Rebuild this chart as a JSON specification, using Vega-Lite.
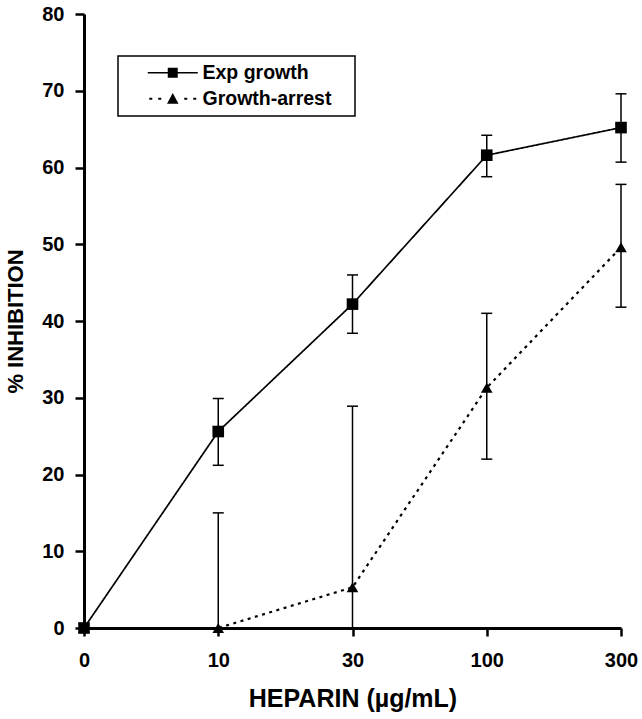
{
  "$schema": "https://vega.github.io/schema/vega-lite/v6.json",
  "width": 537,
  "height": 614,
  "autosize": {"type": "none"},
  "padding": {"left": 84, "top": 14, "right": 21, "bottom": 91},
  "background": "white",
  "config": {
    "view": {"stroke": null},
    "font": "Liberation Sans",
    "axis": {
      "grid": false,
      "domainColor": "black",
      "domainWidth": 3,
      "tickColor": "black",
      "tickWidth": 2.5,
      "tickSize": 9,
      "labelColor": "black",
      "labelFont": "Liberation Sans",
      "labelFontSize": 20,
      "labelFontWeight": "bold",
      "titleColor": "black",
      "titleFont": "Liberation Sans",
      "titleFontSize": 22,
      "titleFontWeight": "bold"
    },
    "legend": {
      "strokeColor": "black",
      "strokeWidth": 1.5,
      "padding": 7,
      "rowPadding": 5,
      "labelFont": "Liberation Sans",
      "labelFontSize": 19.5,
      "labelFontWeight": "bold",
      "labelColor": "black"
    }
  },
  "datasets": {
    "means": [
      {"dose": 0, "series": "Exp growth", "value": 0},
      {"dose": 10, "series": "Exp growth", "value": 25.6},
      {"dose": 30, "series": "Exp growth", "value": 42.2},
      {"dose": 100, "series": "Exp growth", "value": 61.6},
      {"dose": 300, "series": "Exp growth", "value": 65.2},
      {"dose": 0, "series": "Growth-arrest", "value": 0},
      {"dose": 10, "series": "Growth-arrest", "value": 0},
      {"dose": 30, "series": "Growth-arrest", "value": 5.3},
      {"dose": 100, "series": "Growth-arrest", "value": 31.3},
      {"dose": 300, "series": "Growth-arrest", "value": 49.6}
    ],
    "errs": [
      {"dose": 10, "series": "Exp growth", "lo": 21.2, "hi": 29.9},
      {"dose": 30, "series": "Exp growth", "lo": 38.4, "hi": 46.0},
      {"dose": 100, "series": "Exp growth", "lo": 58.8, "hi": 64.2},
      {"dose": 300, "series": "Exp growth", "lo": 60.7, "hi": 69.6},
      {"dose": 10, "series": "Growth-arrest", "lo": 0, "hi": 15.0},
      {"dose": 30, "series": "Growth-arrest", "lo": 0, "hi": 28.9},
      {"dose": 100, "series": "Growth-arrest", "lo": 22.0, "hi": 41.0},
      {"dose": 300, "series": "Growth-arrest", "lo": 41.8, "hi": 57.8}
    ],
    "caps": [
      {"dose": 10, "series": "Exp growth", "v": 21.2},
      {"dose": 10, "series": "Exp growth", "v": 29.9},
      {"dose": 30, "series": "Exp growth", "v": 38.4},
      {"dose": 30, "series": "Exp growth", "v": 46.0},
      {"dose": 100, "series": "Exp growth", "v": 58.8},
      {"dose": 100, "series": "Exp growth", "v": 64.2},
      {"dose": 300, "series": "Exp growth", "v": 60.7},
      {"dose": 300, "series": "Exp growth", "v": 69.6},
      {"dose": 10, "series": "Growth-arrest", "v": 15.0},
      {"dose": 30, "series": "Growth-arrest", "v": 28.9},
      {"dose": 100, "series": "Growth-arrest", "v": 22.0},
      {"dose": 100, "series": "Growth-arrest", "v": 41.0},
      {"dose": 300, "series": "Growth-arrest", "v": 41.8},
      {"dose": 300, "series": "Growth-arrest", "v": 57.8}
    ]
  },
  "encoding": {
    "x": {
      "field": "dose",
      "type": "ordinal",
      "scale": {"type": "point", "domain": [0, 10, 30, 100, 300], "padding": 0},
      "axis": {"title": "HEPARIN (µg/mL)", "labelAngle": 0, "labelPadding": 14, "titlePadding": 16, "titleFontSize": 25, "tickSize": 8}
    }
  },
  "layer": [
    {
      "data": {"name": "means"},
      "mark": {"type": "line", "color": "black"},
      "encoding": {
        "y": {
          "field": "value",
          "type": "quantitative",
          "scale": {"domain": [0, 80], "nice": false},
          "axis": {"title": "% INHIBITION", "values": [0, 10, 20, 30, 40, 50, 60, 70, 80], "labelPadding": 11, "titlePadding": 14}
        },
        "detail": {"field": "series", "type": "nominal"},
        "strokeDash": {"condition": {"test": "datum.series === 'Growth-arrest'", "value": [3, 4.5]}, "value": [1, 0]},
        "strokeWidth": {"condition": {"test": "datum.series === 'Growth-arrest'", "value": 2.2}, "value": 1.7}
      }
    },
    {
      "data": {"name": "errs"},
      "mark": {"type": "rule", "color": "black", "strokeWidth": 1.5},
      "encoding": {
        "y": {"field": "lo", "type": "quantitative"},
        "y2": {"field": "hi"}
      }
    },
    {
      "data": {"name": "caps"},
      "mark": {"type": "tick", "color": "black", "thickness": 1.5, "size": 11, "opacity": 1},
      "encoding": {
        "y": {"field": "v", "type": "quantitative"}
      }
    },
    {
      "data": {"name": "means"},
      "mark": {"type": "point", "filled": true, "color": "black", "opacity": 1, "size": 135},
      "encoding": {
        "y": {"field": "value", "type": "quantitative"},
        "shape": {"condition": {"test": "datum.series === 'Growth-arrest'", "value": "triangle-up"}, "value": "square"}
      }
    },
    {
      "data": {"name": "means"},
      "mark": {"type": "point", "filled": true, "fill": "black", "opacity": 0},
      "encoding": {
        "y": {"field": "value", "type": "quantitative"},
        "shape": {
          "field": "series",
          "type": "nominal",
          "scale": {
            "domain": ["Exp growth", "Growth-arrest"],
            "range": [
              "M-5,-0.17H5V0.17H-5Z M-1,-1H1V1H-1Z",
              "M-4.7,-0.2H-4.1V0.2H-4.7Z M-2.9,-0.2H-2.3V0.2H-2.9Z M2.3,-0.2H2.9V0.2H2.3Z M4.1,-0.2H4.7V0.2H4.1Z M0,-1.15L1.15,1L-1.15,1Z"
            ]
          },
          "legend": {
            "title": null,
            "orient": "none",
            "legendX": 34,
            "legendY": 42,
            "symbolSize": 100,
            "symbolOpacity": 1,
            "symbolFillColor": "black",
            "symbolStrokeWidth": 0,
            "symbolOffset": 38,
            "labelOffset": 20,
            "labelExpr": "datum.label + '\u00a0\u00a0\u00a0\u200b'"
          }
        }
      }
    }
  ]
}
